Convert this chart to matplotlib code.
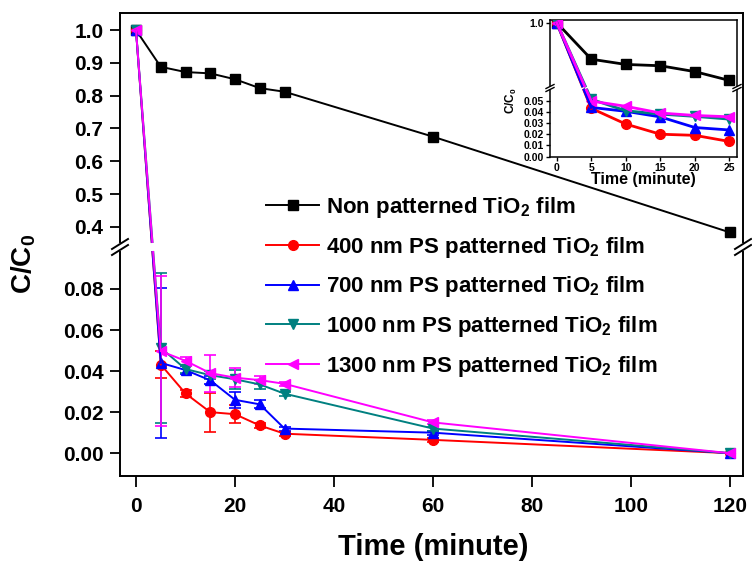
import matplotlib
matplotlib.use("Agg")
import matplotlib.pyplot as plt
from matplotlib.lines import Line2D

plt.rcParams['font.family'] = ['Liberation Sans', 'DejaVu Sans']
plt.rcParams['font.weight'] = 'bold'
plt.rcParams['mathtext.fontset'] = 'custom'
plt.rcParams['mathtext.rm'] = 'Liberation Sans:bold'
plt.rcParams['mathtext.bf'] = 'Liberation Sans:bold'
plt.rcParams['mathtext.it'] = 'Liberation Sans:bold'
plt.rcParams['mathtext.default'] = 'bf'

# ---------------- data ----------------
time = [0, 5, 10, 15, 20, 25, 30, 60, 120]
non_patterned = [1.0, 0.888, 0.872, 0.868, 0.850, 0.823, 0.812, 0.675, 0.383]
ps400 = [1.0, 0.0432, 0.0291, 0.0200, 0.0190, 0.0135, 0.0095, 0.0065, 0.0]
ps700 = [1.0, 0.0440, 0.0405, 0.0355, 0.0260, 0.0238, 0.0120, 0.0100, 0.0]
ps1000 = [1.0, 0.0513, 0.0410, 0.0380, 0.0360, 0.0335, 0.0290, 0.0120, 0.0]
ps1300 = [1.0, 0.0497, 0.0450, 0.0390, 0.0368, 0.0356, 0.0338, 0.0150, 0.0]

err400 = [0, 0.0065, 0.0015, 0.0095, 0.0045, 0.0010, 0.0010, 0.0010, 0]
err700 = [0, 0.0365, 0.0020, 0.0020, 0.0040, 0.0020, 0.0010, 0.0010, 0]
err1000 = [0, 0.0365, 0.0020, 0.0020, 0.0045, 0.0020, 0.0010, 0.0010, 0]
err1300 = [0, 0.0365, 0.0020, 0.0090, 0.0045, 0.0020, 0.0010, 0.0010, 0]

labels = ['Non patterned TiO$_2$ film',
          '400 nm PS patterned TiO$_2$ film',
          '700 nm PS patterned TiO$_2$ film',
          '1000 nm PS patterned TiO$_2$ film',
          '1300 nm PS patterned TiO$_2$ film']
colors = ['black', '#FF0000', '#0000FF', '#008080', '#FF00FF']
markers = ['s', 'o', '^', 'v', '<']
series = [non_patterned, ps400, ps700, ps1000, ps1300]
errors = [None, err400, err700, err1000, err1300]

n_inset = 6  # inset shows first 6 time points (0-25 min)

W, H = 752, 565
fig = plt.figure(figsize=(W / 100, H / 100), dpi=100)


def fx(px):
    return px / W


def fy(py):
    return 1 - py / H


def box(l, r, t, b):
    return [fx(l), fy(b), fx(r) - fx(l), fy(t) - fy(b)]


def bridge(ax_top, ax_bot, p_top, p_bot, color, lw):
    """Draw a straight segment from a point in ax_top to a point in ax_bot,
    interrupted over the gap between the two axes."""
    x0, y0 = ax_top.transData.transform(p_top)
    x1, y1 = ax_bot.transData.transform(p_bot)
    yb = ax_top.transAxes.transform((0, 0))[1]
    yt = ax_bot.transAxes.transform((0, 1))[1]
    inv = fig.transFigure.inverted()
    for (ya, yb_) in ((y0, yb), (yt, y1)):
        xa = x0 + (x1 - x0) * (ya - y0) / (y1 - y0)
        xb = x0 + (x1 - x0) * (yb_ - y0) / (y1 - y0)
        (fa, ga), (fb, gb) = inv.transform([(xa, ya), (xb, yb_)])
        fig.add_artist(Line2D([fa, fb], [ga, gb], color=color, lw=lw,
                              zorder=1.5))


ax_up = fig.add_axes(box(120, 743, 13, 242))
ax_lo = fig.add_axes(box(120, 743, 252, 476))

for ax in (ax_up, ax_lo):
    ax.set_xlim(-3.23, 122.6)
    ax.tick_params(direction='out', length=7, width=1.3, labelsize=15,
                   top=False, right=False, pad=5)
    for sp in ax.spines.values():
        sp.set_linewidth(1.4)

ax_up.set_ylim(0.354, 1.052)
ax_lo.set_ylim(-0.0111, 0.098)

# non patterned: all in upper panel
ax_up.plot(time, non_patterned, color=colors[0], marker=markers[0],
           markersize=6.5, lw=1.4, zorder=3)
# patterned films: first point in upper panel, rest in lower panel
for s, e, c, m in zip(series[1:], errors[1:], colors[1:], markers[1:]):
    ax_up.plot(time[:1], s[:1], color=c, marker=m, markersize=7, lw=1.4,
               zorder=3)
    ax_lo.plot(time[1:], s[1:], color=c, marker=m, markersize=7, lw=1.4,
               zorder=3)
    ax_lo.errorbar(time[1:], s[1:], yerr=e[1:], fmt='none', ecolor=c,
                   elinewidth=1.2, capsize=4, capthick=1.2, zorder=2)
    bridge(ax_up, ax_lo, (time[0], s[0]), (time[1], s[1]), c, 1.4)

ax_up.set_yticks([0.4, 0.5, 0.6, 0.7, 0.8, 0.9, 1.0])
ax_up.set_yticklabels(['0.4', '0.5', '0.6', '0.7', '0.8', '0.9', '1.0'])
ax_up.spines['bottom'].set_visible(False)
ax_up.tick_params(axis='x', bottom=False, labelbottom=False)

ax_lo.set_yticks([0.0, 0.02, 0.04, 0.06, 0.08])
ax_lo.set_yticklabels(['0.00', '0.02', '0.04', '0.06', '0.08'])
ax_lo.spines['top'].set_visible(False)
ax_lo.set_xticks([0, 20, 40, 60, 80, 100, 120])
ax_lo.tick_params(axis='x', length=8, pad=7)

fig.text(fx(24), fy(264), 'C/C$_0$', rotation=90, fontsize=20,
         fontweight='bold', ha='center', va='center')
fig.text(fx(433), fy(547), 'Time (minute)', fontsize=21,
         fontweight='bold', ha='center', va='center')

# break marks main
for xpix in (120, 743):
    for dy in (-3, 3):
        fig.add_artist(Line2D([fx(xpix - 8), fx(xpix + 8)],
                              [fy(247 + dy + 5), fy(247 + dy - 5)],
                              color='black', lw=1.4))

handles = [Line2D([], [], color=c, marker=m, markersize=7, lw=1.4)
           for c, m in zip(colors, markers)]
fig.legend(handles, labels, loc='upper left',
           bbox_to_anchor=(fx(266), fy(195)), frameon=False,
           fontsize=16, handlelength=2.4, handletextpad=0.31,
           labelspacing=0.66, borderpad=0, borderaxespad=0)

# ---------------- inset ----------------
in_up = fig.add_axes(box(550, 737, 20, 86))
in_lo = fig.add_axes(box(550, 737, 90, 157))
for ax in (in_up, in_lo):
    ax.set_xlim(-0.97, 26.1)
    ax.tick_params(direction='out', length=3, width=1.0, labelsize=7.5,
                   pad=1.5, top=False, right=False)
    for sp in ax.spines.values():
        sp.set_linewidth(1.1)

in_up.set_ylim(0.806, 1.008)
in_lo.set_ylim(-0.0004, 0.0596)

in_up.plot(time[:n_inset], non_patterned[:n_inset], color=colors[0],
           marker=markers[0], markersize=6.5, lw=2.0, zorder=3)
for s, c, m in zip(series[1:], colors[1:], markers[1:]):
    in_up.plot(time[:1], s[:1], color=c, marker=m, markersize=7, lw=2.0,
               zorder=3)
    in_lo.plot(time[1:n_inset], s[1:n_inset], color=c, marker=m,
               markersize=7, lw=2.0, zorder=3)
    bridge(in_up, in_lo, (time[0], s[0]), (time[1], s[1]), c, 2.0)

in_up.set_yticks([1.0])
in_up.set_yticklabels(['1.0'])
in_up.spines['bottom'].set_visible(False)
in_up.tick_params(axis='x', bottom=False, labelbottom=False)

in_lo.set_yticks([0.0, 0.01, 0.02, 0.03, 0.04, 0.05])
in_lo.set_yticklabels(['0.00', '0.01', '0.02', '0.03', '0.04', '0.05'])
in_lo.spines['top'].set_visible(False)
in_lo.set_xticks([0, 5, 10, 15, 20, 25])
in_lo.set_xlabel('Time (minute)', fontsize=11.5, fontweight='bold',
                 labelpad=-1)

fig.text(fx(511), fy(101), 'C/C$_0$', rotation=90, fontsize=8.5,
         fontweight='bold', ha='center', va='center')

for xpix in (550, 737):
    for dy in (-1.5, 1.5):
        fig.add_artist(Line2D([fx(xpix - 4), fx(xpix + 4)],
                              [fy(88 + dy + 2), fy(88 + dy - 2)],
                              color='black', lw=1.0))

fig.savefig('out.png', dpi=100)
